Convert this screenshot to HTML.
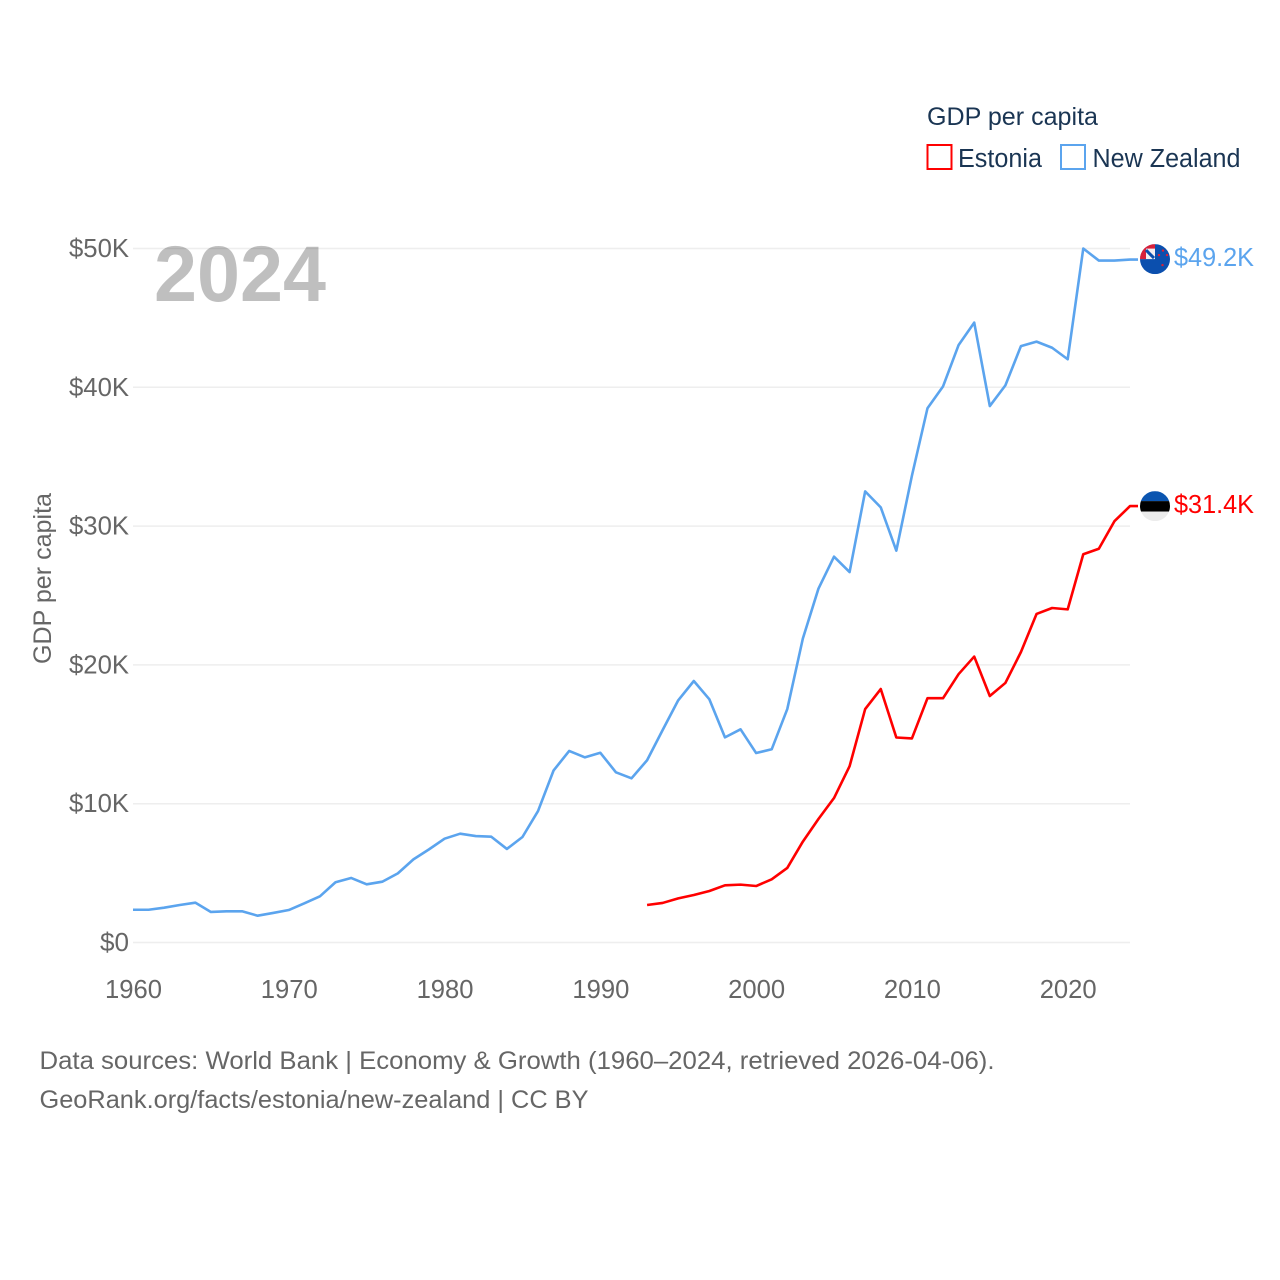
<!DOCTYPE html>
<html lang="en">
<head>
<meta charset="utf-8">
<title>GDP per capita: Estonia and New Zealand</title>
<style>
html,body{margin:0;padding:0;background:#fff;}
svg{display:block;}
text{font-family:"Liberation Sans",sans-serif;}
</style>
</head>
<body>
<svg id="chart" xmlns="http://www.w3.org/2000/svg" width="1280" height="1280" viewBox="0 0 1280 1280">
  <rect x="0" y="0" width="1280" height="1280" fill="#ffffff"/>
  <g id="grid"></g>
  <g id="yTicks"></g>
  <g id="xTicks"></g>
  <text x="154" y="301" font-size="79" font-weight="700" fill="#000000" fill-opacity="0.25" textLength="172" lengthAdjust="spacingAndGlyphs">2024</text>
  <text transform="translate(51,578.5) rotate(-90)" text-anchor="middle" font-size="25" fill="#666666" textLength="171" lengthAdjust="spacingAndGlyphs">GDP per capita</text>
  <g id="series"></g>
  <defs>
    <clipPath id="clipNz"><circle id="clipNzCircle" r="15"/></clipPath>
    <clipPath id="clipEe"><circle id="clipEeCircle" r="15"/></clipPath>
  </defs>
  <g id="flagNz" clip-path="url(#clipNz)"></g>
  <g id="flagEe" clip-path="url(#clipEe)"></g>
  <g id="endLabels"></g>
  <g>
    <text x="927" y="125" font-size="25" fill="#1a3553" textLength="171" lengthAdjust="spacingAndGlyphs">GDP per capita</text>
    <rect x="927.5" y="145" width="24" height="24" fill="none" stroke="#ff0000" stroke-width="2"/>
    <text x="958" y="167" font-size="25.500" fill="#1a3553" textLength="84" lengthAdjust="spacingAndGlyphs">Estonia</text>
    <rect x="1061" y="145" width="24" height="24" fill="none" stroke="#5ba4ee" stroke-width="2"/>
    <text x="1092.500" y="167" font-size="25.500" fill="#1a3553" textLength="148" lengthAdjust="spacingAndGlyphs">New Zealand</text>
  </g>
  <text x="39.500" y="1069" font-size="25" fill="#666666" textLength="955" lengthAdjust="spacingAndGlyphs">Data sources: World Bank | Economy &amp; Growth (1960–2024, retrieved 2026-04-06).</text>
  <text x="39.500" y="1108" font-size="25" fill="#666666" textLength="549" lengthAdjust="spacingAndGlyphs">GeoRank.org/facts/estonia/new-zealand | CC BY</text>
</svg>
<script>
var yTickValues = [0, 10, 20, 30, 40, 50];
var yTickLabels = ["$0", "$10K", "$20K", "$30K", "$40K", "$50K"];
var xTickYears = [1960, 1970, 1980, 1990, 2000, 2010, 2020];
var xTickLabels = ["1960", "1970", "1980", "1990", "2000", "2010", "2020"];
var nzStartYear = 1960;
var nzValues = [2.36, 2.36, 2.51, 2.70, 2.87, 2.20, 2.25, 2.25, 1.93, 2.13, 2.34, 2.82, 3.33, 4.34, 4.65, 4.19, 4.38, 4.98, 5.99, 6.71, 7.48, 7.84, 7.67, 7.62, 6.74, 7.60, 9.47, 12.40, 13.80, 13.34, 13.67, 12.26, 11.83, 13.13, 15.31, 17.45, 18.84, 17.52, 14.78, 15.36, 13.65, 13.92, 16.82, 21.90, 25.49, 27.80, 26.69, 32.50, 31.35, 28.23, 33.63, 38.49, 40.07, 43.05, 44.66, 38.65, 40.14, 42.97, 43.29, 42.85, 42.02, 50.00, 49.13, 49.13, 49.20];
var eeStartYear = 1993;
var eeValues = [2.70, 2.85, 3.18, 3.42, 3.71, 4.12, 4.17, 4.07, 4.55, 5.37, 7.27, 8.90, 10.41, 12.70, 16.82, 18.26, 14.77, 14.70, 17.60, 17.60, 19.34, 20.60, 17.76, 18.70, 20.93, 23.67, 24.10, 24.00, 27.97, 28.37, 30.35, 31.44];

var NS = "http://www.w3.org/2000/svg";
var X0 = 133, X1 = 1130, Y0 = 942.5, Y50 = 248.5;
function xScale(year) { return X0 + (year - 1960) * (X1 - X0) / 64; }
function yScale(v) { return Y0 - v * (Y0 - Y50) / 50; }
function mk(tag, attrs, parent) {
  var el = document.createElementNS(NS, tag);
  for (var k in attrs) el.setAttribute(k, attrs[k]);
  parent.appendChild(el);
  return el;
}

var grid = document.getElementById("grid");
var yTicks = document.getElementById("yTicks");
var xTicks = document.getElementById("xTicks");
var series = document.getElementById("series");
var endLabels = document.getElementById("endLabels");

yTickValues.forEach(function (v, i) {
  var line = mk("line", { x1: X0, x2: X1, y1: yScale(v), y2: yScale(v), stroke: "#eeeeee", "stroke-width": 1.5 }, grid);
  
  
  var t = mk("text", { x: 129, y: yScale(v) + 8.5, "text-anchor": "end", "font-size": 25.5, fill: "#666666", textLength: i === 0 ? 29 : 60, lengthAdjust: "spacingAndGlyphs" }, yTicks);
  
  
  t.textContent = yTickLabels[i];
});

xTickYears.forEach(function (year, i) {
  var t = mk("text", { x: xScale(year) + 0.5, y: 998, "text-anchor": "middle", "font-size": 25.5, fill: "#666666", textLength: 57, lengthAdjust: "spacingAndGlyphs" }, xTicks);
  
  
  t.textContent = xTickLabels[i];
});

function drawSeries(values, startYear, color, name) {
  var pts = values.map(function (v, i) {
    return xScale(startYear + i).toFixed(2) + "," + yScale(v).toFixed(2);
  });
  var lastY = yScale(values[values.length - 1]);
  pts.push("1138," + lastY.toFixed(2));
  var line = mk("polyline", { points: pts.join(" "), fill: "none", stroke: color, "stroke-width": 2.6, "stroke-linejoin": "round" }, series);
  
  
  return lastY;
}
var eeY = drawSeries(eeValues, eeStartYear, "#ff0000", "estonia-line");
var nzY = drawSeries(nzValues, nzStartYear, "#5ba4ee", "new-zealand-line");

function fmt(v) { return "$" + v.toFixed(1) + "K"; }
var nzLabel = mk("text", { x: 1174, y: nzY + 6.5, "font-size": 26, fill: "#5ba4ee", textLength: 80, lengthAdjust: "spacingAndGlyphs" }, endLabels);


nzLabel.textContent = fmt(nzValues[nzValues.length - 1]);
var eeLabel = mk("text", { x: 1174, y: eeY + 7, "font-size": 26, fill: "#ff0000", textLength: 80, lengthAdjust: "spacingAndGlyphs" }, endLabels);


eeLabel.textContent = fmt(eeValues[eeValues.length - 1]);

/* Flags follow the last data value */
var cx = 1155;
var ncy = nzY - 0.5, ecy = eeY;
var nc = document.getElementById("clipNzCircle");
nc.setAttribute("cx", cx); nc.setAttribute("cy", ncy);
var ec = document.getElementById("clipEeCircle");
ec.setAttribute("cx", cx); ec.setAttribute("cy", ecy);

var fn = document.getElementById("flagNz");
var ox = cx - 15, oy = ncy - 15;
mk("rect", { x: ox, y: oy, width: 30, height: 30, fill: "#0b4fae" }, fn);
mk("rect", { x: ox, y: oy, width: 15, height: 15, fill: "#f3eef0" }, fn);
mk("rect", { x: ox, y: oy, width: 15, height: 4.500, fill: "#d8203a" }, fn);
mk("rect", { x: ox, y: oy, width: 6, height: 15, fill: "#d8203a" }, fn);
mk("path", { d: "M" + (ox + 6) + " " + (oy + 6) + "L" + (ox + 14) + " " + (oy + 14), stroke: "#0b4fae", "stroke-width": 3, fill: "none" }, fn);
[[23, 6.500], [19, 11], [27, 11], [22.500, 21]].forEach(function (s) {
  mk("circle", { cx: ox + s[0], cy: oy + s[1], r: 1.200, fill: "#d8203a" }, fn);
});

var fe = document.getElementById("flagEe");
var ex = cx - 15, ey = ecy - 15;
mk("rect", { x: ex, y: ey, width: 30, height: 10, fill: "#0b55b0" }, fe);
mk("rect", { x: ex, y: ey + 10, width: 30, height: 10.500, fill: "#000000" }, fe);
mk("rect", { x: ex, y: ey + 20.500, width: 30, height: 9.500, fill: "#ececec" }, fe);
</script>
</body>
</html>
